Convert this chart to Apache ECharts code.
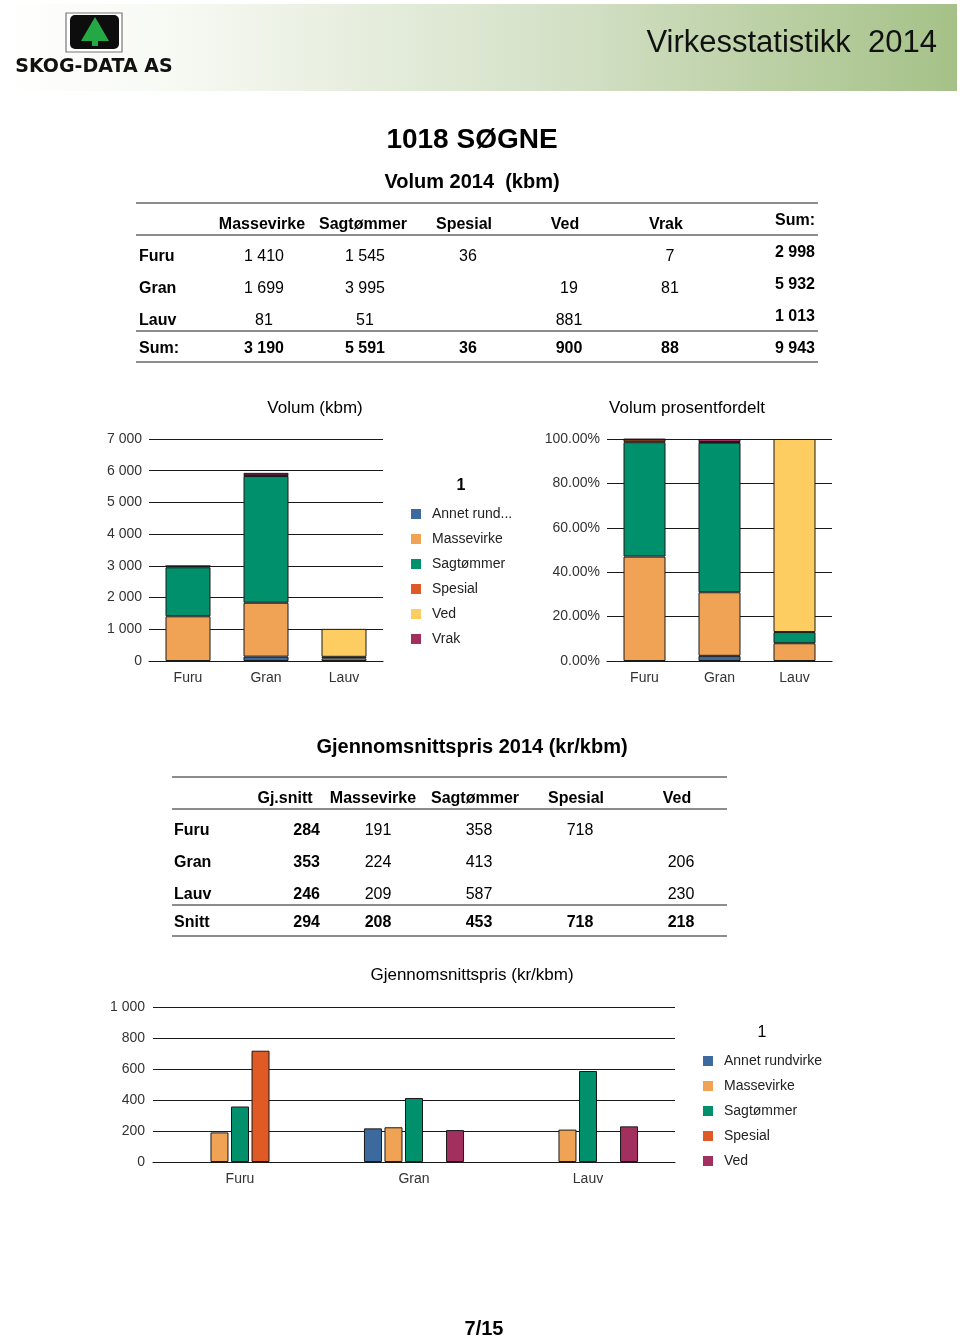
<!DOCTYPE html>
<html><head><meta charset="utf-8">
<script src="https://cdn.jsdelivr.net/npm/echarts@6/dist/echarts.min.js"></script>
<style>html,body{margin:0;padding:0;background:#fff}#c{width:960px;height:1338px}</style>
</head><body><div id="c"></div>
<script>
// ---------- DATA ----------
const categories = ['Furu', 'Gran', 'Lauv'];
const seriesNames = ['Annet rundvirke', 'Massevirke', 'Sagtømmer', 'Spesial', 'Ved', 'Vrak'];
// Volume (kbm)
const volAnnet = [null, 138, null];
const volMasse = [1410, 1699, 81];
const volSag = [1545, 3995, 51];
const volSpesial = [36, null, null];
const volVed = [null, 19, 881];
const volVrak = [7, 81, null];
const volTableCols = ['Massevirke', 'Sagtømmer', 'Spesial', 'Ved', 'Vrak'];
// Average price (kr/kbm)
const priceAnnet = [null, 217, null];
const priceMasse = [191, 224, 209];
const priceSag = [358, 413, 587];
const priceSpesial = [718, null, null];
const priceVed = [null, 206, 230];
const priceAvg = [284, 353, 246];
const priceSnitt = [294, 208, 453, 718, 218];
const priceTableCols = ['Gj.snitt', 'Massevirke', 'Sagtømmer', 'Spesial', 'Ved'];
const priceSeriesNames = ['Annet rundvirke', 'Massevirke', 'Sagtømmer', 'Spesial', 'Ved'];
const volTicks = [0, 1000, 2000, 3000, 4000, 5000, 6000, 7000];

// ---------- STYLE ----------
const C = {blue:'#3d6a9e', orange:'#f0a354', green:'#00906c', red:'#df5a24', yellow:'#fdcd62', purple:'#a2305f'};
const volColors = [C.blue, C.orange, C.green, C.red, C.yellow, C.purple];
const priceColors = [C.blue, C.orange, C.green, C.red, C.purple];
const FONT = '"Liberation Sans", Arial, sans-serif';
const fmt = n => (n === null || n === undefined) ? '' : String(n).replace(/\B(?=(\d{3})+(?!\d))/g, ' ');

const volSeriesData = [volAnnet, volMasse, volSag, volSpesial, volVed, volVrak];
const priceSeriesData = [priceAnnet, priceMasse, priceSag, priceSpesial, priceVed];
const rowTotals = categories.map((_, i) => volSeriesData.reduce((s, arr) => s + (arr[i] || 0), 0));
const colTotals = [volMasse, volSag, volSpesial, volVed, volVrak].map(a => a.reduce((s, v) => s + (v || 0), 0));
const grand = rowTotals.reduce((s, v) => s + v, 0);

// ---------- GRAPHIC ----------
const g = [];
function txt(x, y, text, o) {
  o = o || {};
  const size = o.size || 16;
  const dy = size <= 16 ? 2 : 1;
  g.push({type:'text', x, y:y + dy, silent:true, style:{text, fill:o.color||'#000',
    font:(o.bold?'bold ':'') + size + 'px ' + (o.family||FONT),
    textAlign:o.align||'center', textVerticalAlign:'middle'}});
}
function hline(x1, x2, y, w, col) {
  g.push({type:'line', silent:true, shape:{x1, y1:y, x2, y2:y}, style:{stroke:col||'#666', lineWidth:w||1.5}});
}
// header band
g.push({type:'rect', silent:true, shape:{x:2, y:4, width:955, height:87},
  style:{fill:new echarts.graphic.LinearGradient(0,0,1,0,[{offset:0,color:'#ffffff'},{offset:0.18,color:'#f7f9f3'},{offset:0.6,color:'#d3e0c5'},{offset:1,color:'#a5c187'}])}});
// logo
g.push({type:'rect', silent:true, shape:{x:66, y:13, width:56, height:39}, style:{fill:'#fff', stroke:'#777', lineWidth:1.2}});
g.push({type:'rect', silent:true, shape:{x:70, y:15, width:49, height:34, r:5}, style:{fill:'#0d0d0d'}});
g.push({type:'polygon', silent:true, shape:{points:[[95,17],[81,41],[109,41]]}, style:{fill:'#23a845'}});
g.push({type:'rect', silent:true, shape:{x:92, y:41, width:6, height:5}, style:{fill:'#23a845'}});
g.push({type:'text', x:94, y:67, silent:true, style:{text:'SKOG-DATA AS', fill:'#111',
  font:'bold 19px "DejaVu Sans", "Liberation Sans", Arial', textAlign:'center', textVerticalAlign:'middle'}});
g.push({type:'text', x:937, y:43, silent:true, style:{text:'Virkesstatistikk  2014', fill:'#111',
  font:'31px "Liberation Sans", Arial', textAlign:'right', textVerticalAlign:'middle'}});

// titles
txt(472, 139, '1018 SØGNE', {bold:true, size:28});
txt(472, 181, 'Volum 2014  (kbm)', {bold:true, size:20});

// Table 1
hline(136, 818, 203); hline(136, 818, 235); hline(136, 818, 331); hline(136, 818, 362);
const t1Hx = [262, 363, 464, 565, 666];
const t1Vx = [264, 365, 468, 569, 670];
volTableCols.forEach((c, j) => txt(t1Hx[j], 223, c, {bold:true, size:16}));
txt(815, 219, 'Sum:', {bold:true, size:16, align:'right'});
const t1Ry = [255, 287, 319];
const t1Cols = [volMasse, volSag, volSpesial, volVed, volVrak];
categories.forEach((r, i) => {
  txt(139, t1Ry[i], r, {bold:true, size:16, align:'left'});
  t1Cols.forEach((arr, j) => txt(t1Vx[j], t1Ry[i], fmt(arr[i]), {size:16}));
  txt(815, t1Ry[i] - 4, fmt(rowTotals[i]), {bold:true, size:16, align:'right'});
});
txt(139, 347, 'Sum:', {bold:true, size:16, align:'left'});
colTotals.forEach((v, j) => txt(t1Vx[j], 347, fmt(v), {bold:true, size:16}));
txt(815, 347, fmt(grand), {bold:true, size:16, align:'right'});

// chart titles
txt(315, 407, 'Volum (kbm)', {size:17});
txt(687, 407, 'Volum prosentfordelt', {size:17});
txt(461, 484, '1', {bold:true, size:16});

// Section 2
txt(472, 746, 'Gjennomsnittspris 2014 (kr/kbm)', {bold:true, size:20});
hline(172, 727, 777); hline(172, 727, 809); hline(172, 727, 905); hline(172, 727, 936);
const t2Hx = [285, 373, 475, 576, 677];
const t2Vx = [378, 479, 580, 681];
priceTableCols.forEach((c, j) => txt(t2Hx[j], 797, c, {bold:true, size:16}));
const t2Ry = [829, 861, 893];
const t2Cols = [priceMasse, priceSag, priceSpesial, priceVed];
categories.forEach((r, i) => {
  txt(174, t2Ry[i], r, {bold:true, size:16, align:'left'});
  txt(320, t2Ry[i], fmt(priceAvg[i]), {bold:true, size:16, align:'right'});
  t2Cols.forEach((arr, j) => txt(t2Vx[j], t2Ry[i], fmt(arr[i]), {size:16}));
});
txt(174, 921, 'Snitt', {bold:true, size:16, align:'left'});
txt(320, 921, fmt(priceSnitt[0]), {bold:true, size:16, align:'right'});
priceSnitt.slice(1).forEach((v, j) => txt(t2Vx[j], 921, fmt(v), {bold:true, size:16}));

txt(472, 974, 'Gjennomsnittspris (kr/kbm)', {size:17});
txt(762, 1031, '1', {size:16});
txt(484, 1328, '7/15', {bold:true, size:20});

// ---------- CHARTS ----------
const axisLbl = {color:'#333', fontSize:14, fontFamily:FONT};
const splitL = {show:true, lineStyle:{color:'#1a1a1a', width:1.2}};
const border = {borderColor:'#1a1a1a', borderWidth:1};
function xAx(gi) {
  return {type:'category', gridIndex:gi, data:categories, axisTick:{show:false},
    axisLine:{show:true, lineStyle:{color:'#1a1a1a', width:1.2}}, axisLabel:Object.assign({margin:10}, axisLbl)};
}
const series = [];
volSeriesData.forEach((arr, k) => {
  series.push({type:'bar', name:seriesNames[k], xAxisIndex:0, yAxisIndex:0, stack:'vol', barWidth:45,
    data:arr, itemStyle:Object.assign({color:volColors[k]}, border), emphasis:{disabled:true}});
});
volSeriesData.forEach((arr, k) => {
  series.push({type:'bar', name:seriesNames[k], xAxisIndex:1, yAxisIndex:1, stack:'pct', barWidth:42,
    data:arr.map((v, i) => v === null ? null : v / rowTotals[i] * 100),
    itemStyle:Object.assign({color:volColors[k]}, border), emphasis:{disabled:true}});
});
priceSeriesData.forEach((arr, k) => {
  series.push({type:'bar', name:priceSeriesNames[k], xAxisIndex:2, yAxisIndex:2, barWidth:18, barGap:'14%',
    data:arr, itemStyle:Object.assign({color:priceColors[k]}, border), emphasis:{disabled:true}});
});

const chart = echarts.init(document.getElementById('c'), null, {renderer:'canvas'});
chart.setOption({
  animation:false,
  textStyle:{fontFamily:FONT},
  graphic:g,
  grid:[
    {left:149, top:439, width:234, height:222},
    {left:607, top:439, width:225, height:222},
    {left:153, top:1007, width:522, height:155}
  ],
  xAxis:[xAx(0), xAx(1), xAx(2)],
  yAxis:[
    {type:'value', gridIndex:0, min:volTicks[0], max:volTicks[volTicks.length-1], interval:1000, splitLine:splitL,
      axisLine:{show:false}, axisTick:{show:false}, axisLabel:Object.assign({margin:7, formatter:v => fmt(v)}, axisLbl)},
    {type:'value', gridIndex:1, min:0, max:100, interval:20, splitLine:splitL,
      axisLine:{show:false}, axisTick:{show:false}, axisLabel:Object.assign({margin:7, formatter:v => v.toFixed(2) + '%'}, axisLbl)},
    {type:'value', gridIndex:2, min:0, max:1000, interval:200, splitLine:splitL,
      axisLine:{show:false}, axisTick:{show:false}, axisLabel:Object.assign({margin:8, formatter:v => fmt(v)}, axisLbl)}
  ],
  legend:[
    {orient:'vertical', left:406, top:502, itemWidth:10, itemHeight:10, itemGap:11, icon:'rect',
      selectedMode:false, data:seriesNames, itemStyle:{borderWidth:0},
      formatter:n => n.length > 12 ? n.slice(0, 10) + '...' : n,
      textStyle:{fontSize:14, color:'#222', padding:[0,0,0,6]}},
    {orient:'vertical', left:698, top:1049, itemWidth:10, itemHeight:10, itemGap:11, icon:'rect',
      selectedMode:false, itemStyle:{borderWidth:0},
      data:priceSeriesNames.map((n, k) => ({name:n, itemStyle:{color:priceColors[k], borderWidth:0}})),
      textStyle:{fontSize:14, color:'#222', padding:[0,0,0,6]}}
  ],
  series
});
</script></body></html>
